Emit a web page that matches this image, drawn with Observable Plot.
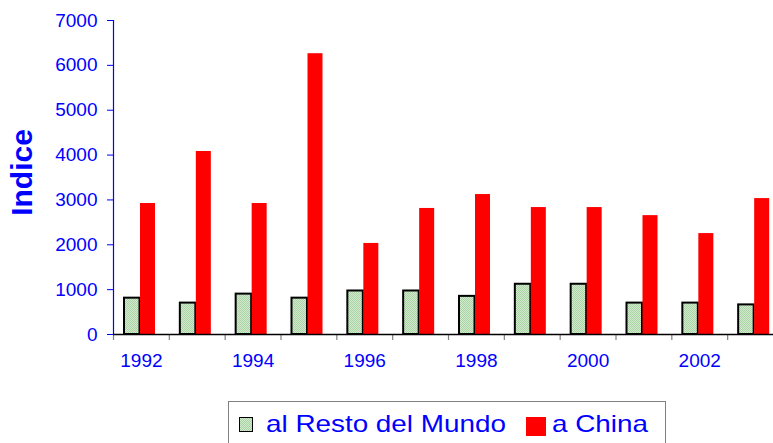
<!DOCTYPE html>
<html><head><meta charset="utf-8">
<script src="https://cdn.jsdelivr.net/npm/d3@7"></script>
<script src="https://cdn.jsdelivr.net/npm/@observablehq/plot@0.6"></script>
<style>
body{margin:0;background:#fff;font-family:"Liberation Sans",Arial,sans-serif;}
#wrap{position:relative;width:773px;height:443px;overflow:hidden;background:#fff;}
#legend{position:absolute;left:228px;top:401px;width:438px;height:60px;border:1.5px solid #808080;box-sizing:border-box;}
.sw{position:absolute;box-sizing:border-box;}
.lt{position:absolute;font-size:24px;line-height:24px;color:#0000ff;white-space:nowrap;transform:scaleX(1.16);transform-origin:left center;}
</style></head><body>
<div id="wrap"><div id="chart"></div>
<div id="legend">
  <div class="sw" style="left:10px;top:14.5px;width:14px;height:15px;border:1.5px solid #000;background:repeating-conic-gradient(#a9d3a5 0 25%, #d3eacf 0 50%) 0 0/2px 2px;"></div>
  <div class="lt" id="l1" style="left:36.5px;top:9.5px;"></div>
  <div class="sw" style="left:296.5px;top:14.5px;width:20px;height:19px;background:#ff0000;"></div>
  <div class="lt" id="l2" style="left:322.5px;top:9.5px;"></div>
</div>
</div>
<script>
const years = [1992,1993,1994,1995,1996,1997,1998,1999,2000,2001,2002,2003];
const seriesNames = ["al Resto del Mundo","a China"];
const resto = [810,700,900,810,970,970,850,1120,1120,700,700,660];
const china = [2920,4080,2920,6260,2030,2810,3120,2830,2830,2650,2250,3030];
const labelYears = [1992,1994,1996,1998,2000,2002];
const yTicks = [0,1000,2000,3000,4000,5000,6000,7000];
const yLabel = "Indice";

const restoData = years.map((y,i)=>({year:y, serie:seriesNames[0], value:resto[i]}));
const chinaData = years.map((y,i)=>({year:y, serie:seriesNames[1], value:china[i]}));

document.getElementById("l1").textContent = seriesNames[0];
document.getElementById("l2").textContent = seriesNames[1];

const W = 773, H = 395, xLeft = 113, xRight = 783, yTop = 20, yBottom = 334;
const step = (xRight - xLeft) / years.length;
const blue = "#0000ff";

const plot = Plot.plot({
  width: W, height: H,
  marginLeft: xLeft, marginRight: 0, marginTop: yTop, marginBottom: H - yBottom,
  style: {fontFamily: '"Liberation Sans", Arial, sans-serif', fontSize: "19px", background: "transparent", overflow: "visible"},
  x: {domain: years, range: [xLeft, xRight], padding: 0, round: false, axis: null},
  y: {domain: [0, 7000], axis: null},
  marks: [
    Plot.barY(restoData, {x: "year", y: "value", fill: "url(#greenPat)", stroke: "#000", strokeWidth: 2, insetLeft: 11, insetRight: step - 11 - 15.5}),
    Plot.barY(chinaData, {x: "year", y: "value", fill: "#ff0000", insetLeft: 27, insetRight: step - 27 - 15}),
    Plot.axisY({ticks: yTicks, tickSize: 6, tickPadding: 10, stroke: blue, fill: blue, fontSize: 19, label: null, tickFormat: d3.format("d")}),
    Plot.ruleX([years[0]], {x: d => d, y1: 0, y2: 7000, dx: -step / 2, stroke: blue, strokeWidth: 1.2}),
    Plot.axisX({tickSize: 6, tickFormat: () => "", dx: -step / 2, stroke: "#808080", strokeWidth: 1.2, label: null}),
    Plot.ruleY([0], {stroke: "#000", strokeWidth: 1.5}),
    Plot.axisX({ticks: labelYears, tickSize: 0, tickPadding: 19, fill: blue, fontSize: 19, label: null, tickFormat: d => String(d)}),
    Plot.text([yLabel], {frameAnchor: "left", text: d => d, rotate: -90, textAnchor: "middle", dx: -91.5, dy: -5, fontSize: 30, fontWeight: "bold", fill: blue})
  ]
});

const defs = d3.select(plot).insert("defs", ":first-child");
const pat = defs.append("pattern").attr("id", "greenPat").attr("patternUnits", "userSpaceOnUse").attr("width", 2).attr("height", 2);
pat.append("rect").attr("width", 2).attr("height", 2).attr("fill", "#d3eacf");
pat.append("rect").attr("width", 1).attr("height", 1).attr("fill", "#a9d3a5");
pat.append("rect").attr("x", 1).attr("y", 1).attr("width", 1).attr("height", 1).attr("fill", "#a9d3a5");

document.getElementById("chart").appendChild(plot);
</script>
</body></html>
